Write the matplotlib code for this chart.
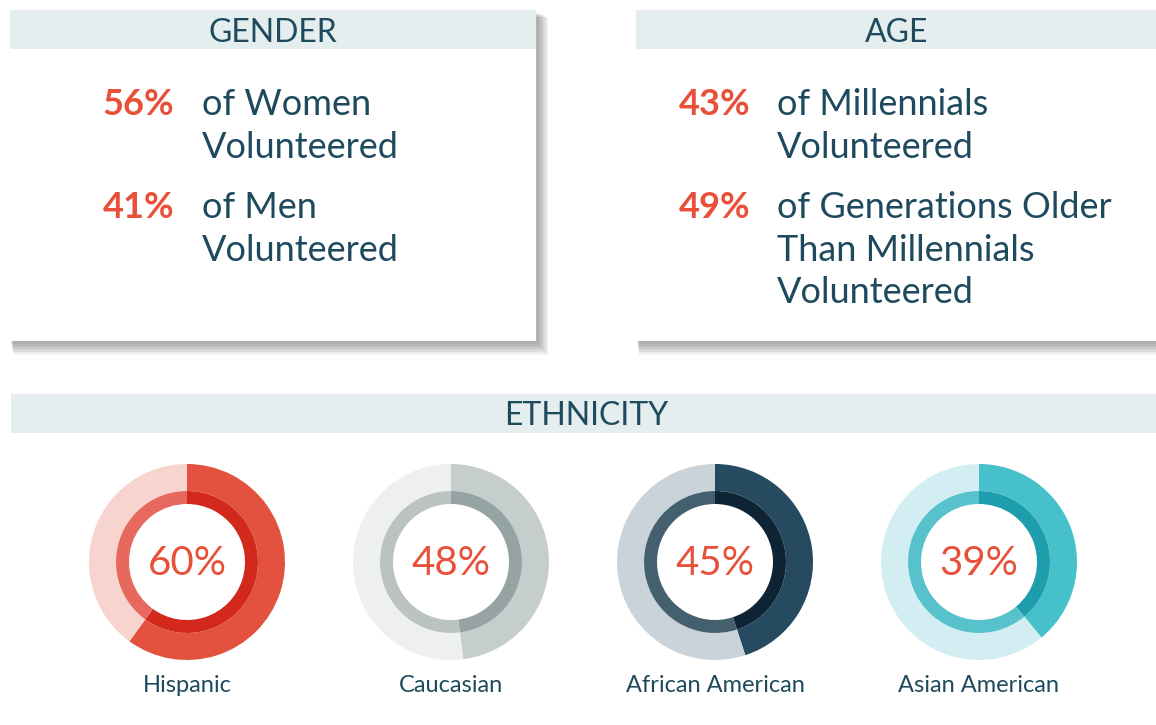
"""
Volunteering by gender, age and ethnicity - infographic panel.
"""
import matplotlib
matplotlib.use("Agg")
import matplotlib.pyplot as plt
from matplotlib.patches import Rectangle

plt.rcParams["font.family"] = ["Lato", "DejaVu Sans"]

# data
gender_pct = ["56%", "41%"]
gender_text = [["of Women", "Volunteered"], ["of Men", "Volunteered"]]
age_pct = ["43%", "49%"]
age_text = [["of Millennials", "Volunteered"],
            ["of Generations Older", "Than Millennials", "Volunteered"]]
ethnicities = ["Hispanic", "Caucasian", "African American", "Asian American"]
eth_values = [60, 48, 45, 39]

# palette per donut: (outer value, outer rest, inner value, inner rest)
donut_colors = [
    ("#E3523F", "#F7D4CE", "#D3291D", "#E7685D"),
    ("#C6CECD", "#EEF0EF", "#95A3A2", "#BAC3C2"),
    ("#264A5F", "#CAD3D9", "#0E2333", "#44606F"),
    ("#46C1CC", "#D3EEF2", "#1E9EAD", "#57C1CC"),
]

DARK = "#1F4A5E"
RED = "#E8503A"
BAND = "#E4EEEF"

W, H = 1156, 725
fig = plt.figure(figsize=(W / 100, H / 100), dpi=100)
bg = fig.add_axes([0, 0, 1, 1])
bg.set_xlim(0, W)
bg.set_ylim(H, 0)
bg.axis("off")


def shadowed_box(x0, y0, x1, y1, band_h, shadow=True):
    if shadow:
        for i in range(8):
            bg.add_patch(Rectangle((x0 + 1 + i * 0.3, y0 + 3 + i * 0.6),
                                   x1 - x0 + 2 + i, y1 - y0 + i * 0.9,
                                   facecolor="#000000", alpha=0.045,
                                   edgecolor="none", zorder=1))
    bg.add_patch(Rectangle((x0, y0), x1 - x0, y1 - y0, facecolor="white",
                           edgecolor="none", zorder=2))
    bg.add_patch(Rectangle((x0, y0), x1 - x0, band_h, facecolor=BAND,
                           edgecolor="none", zorder=3))


shadowed_box(10, 10, 536, 341, 39)
shadowed_box(636, 10, 1160, 341, 39)
shadowed_box(11, 394, 1160, 740, 39)

fs_head = 23
bg.text(273, 42, "GENDER", ha="center", va="baseline", fontsize=fs_head,
        color=DARK, zorder=5)
bg.text(897, 42, "AGE", ha="center", va="baseline", fontsize=fs_head,
        color=DARK, zorder=5)
bg.text(586, 425, "ETHNICITY", ha="center", va="baseline", fontsize=fs_head,
        color=DARK, zorder=5)

fs_body = 26
line_h = 42.5


def stat_block(x_pct, x_txt, pcts, texts):
    y = 115
    for pct, lines in zip(pcts, texts):
        bg.text(x_pct, y, pct, ha="right", va="baseline", fontsize=fs_body,
                fontweight="bold", color=RED, zorder=5)
        for k, line in enumerate(lines):
            bg.text(x_txt, y + k * line_h, line, ha="left", va="baseline",
                    fontsize=fs_body, color=DARK, zorder=5)
        y += len(lines) * line_h + 18


stat_block(174, 202, gender_pct, gender_text)
stat_block(750, 777, age_pct, age_text)

# donuts
centers_x = [187, 451, 715, 979]
cy = 562
R = 98
for cx, name, val, cols in zip(centers_x, ethnicities, eth_values, donut_colors):
    ax = fig.add_axes([(cx - R) / W, 1 - (cy + R) / H, 2 * R / W, 2 * R / H])
    ax.pie([val, 100 - val], radius=1.0, colors=[cols[0], cols[1]],
           startangle=90, counterclock=False,
           wedgeprops=dict(width=27 / R, edgecolor="none"))
    ax.pie([val, 100 - val], radius=71 / R, colors=[cols[2], cols[3]],
           startangle=90, counterclock=False,
           wedgeprops=dict(width=13 / R, edgecolor="none"))
    ax.set_xlim(-1, 1)
    ax.set_ylim(-1, 1)
    ax.set_aspect("equal")
    ax.axis("off")
    ax.text(0, -0.02, f"{val}%", ha="center", va="center", fontsize=29,
            fontweight="normal", color=RED)
    bg.text(cx, 692, name, ha="center", va="baseline", fontsize=17,
            color=DARK, zorder=5)

fig.savefig("out.png", dpi=100)
